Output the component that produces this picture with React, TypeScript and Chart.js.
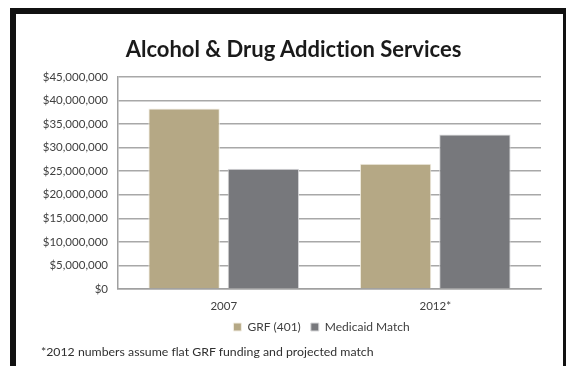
import React, { useEffect, useRef } from "react";
import { Chart, registerables } from "chart.js";

Chart.register(...registerables);

const categories = ["2007", "2012*"];
const grfValues = [38300000, 26600000];
const medicaidValues = [25500000, 32800000];
const seriesNames = ["GRF (401)", "Medicaid Match"];
const titleText = "Alcohol & Drug Addiction Services";
const footnoteText = "*2012 numbers assume flat GRF funding and projected match";

const FONT = "Lato, 'Open Sans', sans-serif";

const legendShift = {
  id: "legendShift",
  afterLayout(chart: any) {
    if (chart.legend) {
      chart.legend.left -= 8;
      chart.legend.right -= 8;
    }
  },
};

export default function App() {
  const ref = useRef<HTMLCanvasElement | null>(null);

  useEffect(() => {
    if (!ref.current) return;
    const chart = new Chart(ref.current, {
      type: "bar",
      data: {
        labels: categories,
        datasets: [
          {
            label: seriesNames[0],
            data: grfValues,
            backgroundColor: "#b5a885",
            borderColor: "#f2eee4",
            borderWidth: 1,
            categoryPercentage: 0.75,
            barPercentage: 0.9,
          },
          {
            label: seriesNames[1],
            data: medicaidValues,
            backgroundColor: "#77787c",
            borderColor: "#d8d8da",
            borderWidth: 1,
            categoryPercentage: 0.75,
            barPercentage: 0.9,
          },
        ],
      },
      options: {
        animation: false,
        responsive: false,
        maintainAspectRatio: false,
        layout: { padding: { left: 16, right: 25, top: 77, bottom: 23 } },
        plugins: {
          title: { display: false },
          legend: {
            position: "bottom",
            fullSize: false,
            labels: {
              boxWidth: 8,
              boxHeight: 8,
              color: "#404040",
              font: { family: FONT, size: 12 },
              padding: 10,
            },
          },
          tooltip: { enabled: false },
        },
        scales: {
          x: {
            grid: { display: false, drawTicks: false },
            border: { display: true, color: "#a0a0a0", width: 1.5 },
            ticks: { color: "#404040", font: { family: FONT, size: 11.5 }, padding: 10 },
            afterFit: (s: any) => {
              s.height = 22;
            },
          },
          y: {
            min: 0,
            max: 45000000,
            ticks: {
              stepSize: 5000000,
              color: "#404040",
              font: { family: FONT, size: 11.5 },
              padding: 10,
              callback: (v: any) => "$" + Number(v).toLocaleString("en-US"),
            },
            grid: { color: "#a8a8a8", lineWidth: 1.5, drawTicks: false },
            border: { display: true, color: "#a0a0a0", width: 1.5 },
            afterFit: (s: any) => {
              s.width = 102;
            },
          },
        },
      },
      plugins: [legendShift],
    });
    return () => chart.destroy();
  }, []);

  return (
    <div style={{ position: "fixed", left: 0, top: 0, width: 566, height: 366, background: "#fff" }}>
      <div
        style={{
          position: "absolute",
          left: 10,
          top: 8,
          width: 556,
          height: 358,
          boxSizing: "border-box",
          borderLeft: "6px solid #111",
          borderTop: "6px solid #111",
          borderRight: "3px solid #111",
        }}
      />
      <canvas ref={ref} width={566} height={366} style={{ position: "absolute", left: 0, top: 0 }} />
      <div
        style={{
          position: "absolute",
          left: 0,
          width: 587,
          top: 35,
          height: 28,
          lineHeight: "28px",
          textAlign: "center",
          fontFamily: FONT,
          fontSize: 22,
          fontWeight: "bold",
          color: "#1a1a1a",
          whiteSpace: "nowrap",
          fontVariantLigatures: "none",
        }}
      >
        {titleText}
      </div>
      <div
        style={{
          position: "absolute",
          left: 41,
          top: 344,
          fontFamily: FONT,
          fontSize: 12.3,
          color: "#303030",
          whiteSpace: "nowrap",
          fontVariantLigatures: "none",
        }}
      >
        {footnoteText}
      </div>
    </div>
  );
}
